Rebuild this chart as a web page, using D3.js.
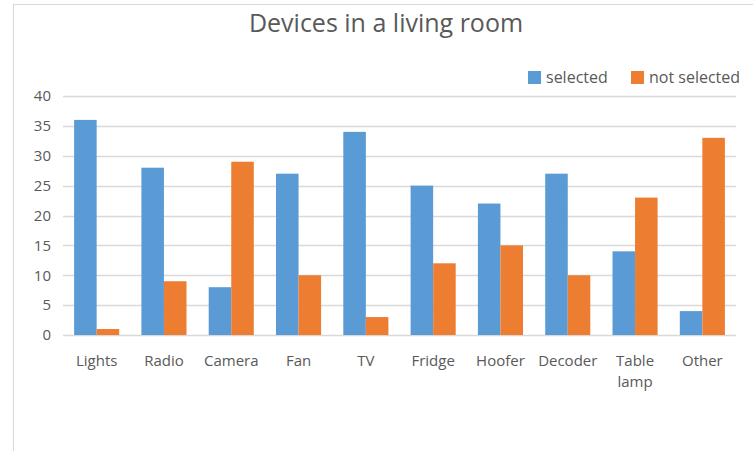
<!DOCTYPE html>
<html><head><meta charset="utf-8">
<script src="https://cdn.jsdelivr.net/npm/d3@7"></script>
<style>body{margin:0;background:#fff;}svg{display:block;}</style>
</head><body>
<script>
const categories = ["Lights","Radio","Camera","Fan","TV","Fridge","Hoofer","Decoder","Table lamp","Other"];
const selected = [36,28,8,27,34,25,22,27,14,4];
const notSelected = [1,9,29,10,3,12,15,10,23,33];
const seriesNames = ["selected","not selected"];
const colors = ["#5b9bd5","#ed7d31"];
const yTicks = [0,5,10,15,20,25,30,35,40];

const W=753,H=451;
const svg=d3.select("body").append("svg").attr("width",W).attr("height",H);
const font="'Open Sans', sans-serif";
svg.append("rect").attr("x",13.5).attr("y",4.5).attr("width",W+10).attr("height",H+10)
  .attr("fill","#fff").attr("stroke","#d9d9d9");

const m={l:63,r:736,t:96,b:335};
const x=d3.scaleBand().domain(categories).range([m.l,m.r]).paddingInner(0.33).paddingOuter(0.165);
const x1=d3.scaleBand().domain(seriesNames).range([0,x.bandwidth()]);
const y=d3.scaleLinear().domain([0,40]).range([m.b,m.t]);

const g=svg.append("g");
g.selectAll(".grid").data(yTicks).join("line")
  .attr("x1",m.l).attr("x2",m.r).attr("y1",d=>Math.round(y(d))+0.5).attr("y2",d=>Math.round(y(d))+0.5)
  .attr("stroke","#d9d9d9").attr("stroke-width",1.5);

const yAxis=d3.axisLeft(y).tickValues(yTicks).tickSize(0).tickPadding(0);
const ya=svg.append("g").attr("transform",`translate(51,0)`).call(yAxis);
ya.select(".domain").remove();
ya.selectAll("text").attr("font-family",font).attr("font-size",15).attr("fill","#595959");

const data=categories.map((c,i)=>({c,vals:[selected[i],notSelected[i]]}));
const grp=svg.append("g").selectAll("g").data(data).join("g").attr("transform",d=>`translate(${x(d.c)},0)`);
grp.selectAll("rect").data(d=>d.vals.map((v,j)=>({v,s:seriesNames[j],j}))).join("rect")
  .attr("x",d=>x1(d.s)).attr("width",x1.bandwidth())
  .attr("y",d=>y(d.v)).attr("height",d=>y(0)-y(d.v)).attr("fill",d=>colors[d.j]);

const xAxis=d3.axisBottom(x).tickSize(0).tickPadding(0);
const xa=svg.append("g").attr("transform",`translate(0,${m.b})`).call(xAxis);
xa.select(".domain").remove();
xa.selectAll("text").each(function(d){
  const t=d3.select(this); t.text(null);
  t.attr("font-family",font).attr("font-size",15).attr("fill","#595959").attr("dy",null).attr("y",0);
  const parts=d==="Table lamp"?["Table","lamp"]:[d];
  parts.forEach((p,i)=>t.append("tspan").attr("x",0).attr("y",31+i*21).text(p));
});

svg.append("text").attr("x",386).attr("y",32).attr("text-anchor","middle")
  .attr("font-family",font).attr("font-size",25).attr("fill","#595959").text("Devices in a living room");

const legX=[528,631];
const leg=svg.append("g").selectAll("g").data(seriesNames).join("g").attr("transform",(d,i)=>`translate(${legX[i]},71)`);
leg.append("rect").attr("width",13).attr("height",13).attr("fill",(d,i)=>colors[i]);
leg.append("text").attr("x",18).attr("y",12).attr("font-family",font).attr("font-size",16).attr("fill","#595959").text(d=>d);
</script>
</body></html>
